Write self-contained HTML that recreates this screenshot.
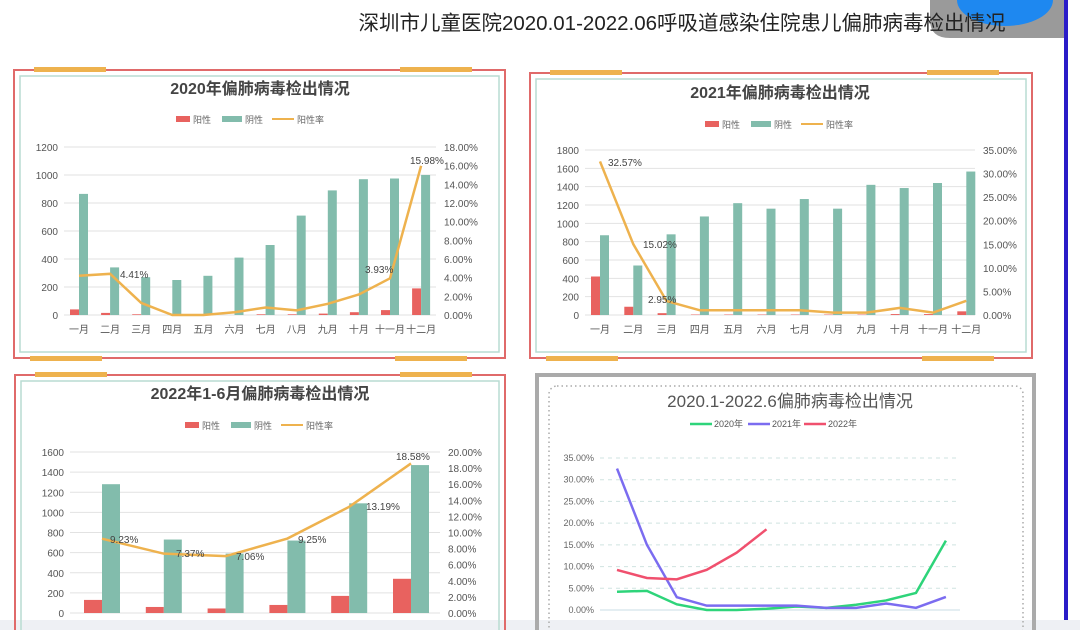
<!DOCTYPE html>
<html><head><meta charset="utf-8"><style>
body{margin:0;width:1080px;height:630px;overflow:hidden;background:#fff;font-family:"Liberation Sans","Noto Sans CJK SC",sans-serif}
svg{display:block}
</style></head><body>
<svg id="s" width="1080" height="630" xmlns="http://www.w3.org/2000/svg" font-family="Liberation Sans, Noto Sans CJK SC, sans-serif">
<rect width="1080" height="630" fill="#fff"/>
<path d="M930 0 H1065 V38 H950 Q930 38 930 20 Z" fill="#9a9a9a"/>
<ellipse cx="1005" cy="0" rx="48" ry="26" fill="#1e88f0"/>
<text x="682" y="30" font-size="20.5" text-anchor="middle" fill="#222">深圳市儿童医院2020.01-2022.06呼吸道感染住院患儿偏肺病毒检出情况</text>
<rect x="1064" y="0" width="4" height="630" fill="#2a1cc8"/>
<rect x="0" y="620" width="1080" height="10" fill="#eef0f4"/>
<g id="g"></g>
</svg>
<script>
const g=document.getElementById('g');let h='';
const RED='#e8625f',TEAL='#82bcac',OR='#eeb24e';
function t(x,y,s,sz,fill,anc,w){h+=`<text x="${x}" y="${y}" font-size="${sz}" fill="${fill||'#444'}" text-anchor="${anc||'start'}" ${w?'font-weight="bold"':''}>${s}</text>`}
function frame(x1,y1,x2,y2){
 h+=`<rect x="${x1}" y="${y1}" width="${x2-x1}" height="${y2-y1}" fill="none" stroke="#e06a6a" stroke-width="2"/>`;
 h+=`<rect x="${x1+6}" y="${y1+6}" width="${x2-x1-12}" height="${y2-y1-12}" fill="none" stroke="#b8dcd2" stroke-width="1.5"/>`;
 h+=`<rect x="${x1+20}" y="${y1-3}" width="72" height="5" fill="${OR}"/><rect x="${x2-105}" y="${y1-3}" width="72" height="5" fill="${OR}"/>`;
 h+=`<rect x="${x1+16}" y="${y2-2}" width="72" height="5" fill="${OR}"/><rect x="${x2-110}" y="${y2-2}" width="72" height="5" fill="${OR}"/>`;
}
function legend(x,y){
 h+=`<rect x="${x}" y="${y-5}" width="14" height="6" fill="${RED}"/>`;t(x+17,y+2,'阳性',9,'#666');
 h+=`<rect x="${x+46}" y="${y-5}" width="20" height="6" fill="${TEAL}"/>`;t(x+69,y+2,'阴性',9,'#666');
 h+=`<line x1="${x+96}" y1="${y-2}" x2="${x+118}" y2="${y-2}" stroke="${OR}" stroke-width="2"/>`;t(x+121,y+2,'阳性率',9,'#666');
}
function combo(o){
 const {x0,x1,y0,y1,lmax,lstep,rmax,rstep,cats,c0,step,neg,pos,rate,bw,labels}=o;
 const ly=v=>y0-(y0-y1)*v/lmax, ry=v=>y0-(y0-y1)*v/rmax;
 for(let v=0;v<=lmax+1e-6;v+=lstep){const y=ly(v);h+=`<line x1="${x0}" y1="${y}" x2="${x1}" y2="${y}" stroke="#e2e2e2"/>`;t(x0-6,y+4,v,10,'#555','end');}
 for(let v=0;v<=rmax+1e-6;v+=rstep){t(x1+8,ry(v)+4,v.toFixed(2)+'%',10,'#555');}
 let pts=[];
 cats.forEach((c,i)=>{const cx=c0+i*step;
  h+=`<rect x="${cx-bw}" y="${ly(pos[i])}" width="${bw}" height="${y0-ly(pos[i])}" fill="${RED}"/>`;
  h+=`<rect x="${cx}" y="${ly(neg[i])}" width="${bw}" height="${y0-ly(neg[i])}" fill="${TEAL}"/>`;
  t(cx,y0+18,c,10,'#555','middle');pts.push(cx+','+ry(rate[i]));});
 h+=`<polyline points="${pts.join(' ')}" fill="none" stroke="${OR}" stroke-width="2.5"/>`;
 labels.forEach(l=>t(l[0],l[1],l[2],10,'#444'));
}
const M12=['一月','二月','三月','四月','五月','六月','七月','八月','九月','十月','十一月','十二月'];
frame(14,70,505,358);
t(260,94,'2020年偏肺病毒检出情况',16,'#444','middle',1);legend(176,121);
combo({x0:64,x1:436,y0:315,y1:147,lmax:1200,lstep:200,rmax:18,rstep:2,cats:M12,c0:79,step:31.1,bw:9,
 neg:[865,340,270,250,280,410,500,710,890,970,975,1000],pos:[40,15,5,0,0,0,5,5,10,20,35,190],
 rate:[4.2,4.41,1.3,0,0,0.3,0.8,0.5,1.2,2.2,3.93,15.98],labels:[[120,278,'4.41%'],[365,273,'3.93%'],[410,164,'15.98%']]});
frame(530,73,1032,358);
t(780,98,'2021年偏肺病毒检出情况',16,'#444','middle',1);legend(705,126);
combo({x0:585,x1:975,y0:315,y1:150,lmax:1800,lstep:200,rmax:35,rstep:5,cats:M12,c0:600,step:33.3,bw:9,
 neg:[870,540,880,1075,1220,1160,1265,1160,1420,1385,1440,1565],pos:[420,90,20,5,5,5,5,5,5,10,10,40],
 rate:[32.57,15.02,2.95,1,1,1,1,0.5,0.5,1.5,0.5,3.0],labels:[[608,166,'32.57%'],[643,248,'15.02%'],[648,303,'2.95%']]});
frame(15,375,505,640);
t(260,399,'2022年1-6月偏肺病毒检出情况',16,'#444','middle',1);legend(185,427);
combo({x0:70,x1:440,y0:613,y1:452,lmax:1600,lstep:200,rmax:20,rstep:2,cats:['','','','','',''],c0:102,step:61.8,bw:18,
 neg:[1280,730,590,720,1090,1470],pos:[130,60,45,80,170,340],rate:[9.23,7.37,7.06,9.25,13.19,18.58],
 labels:[[110,543,'9.23%'],[176,557,'7.37%'],[236,560,'7.06%'],[298,543,'9.25%'],[366,510,'13.19%'],[396,460,'18.58%']]});
h+=`<rect x="537" y="375" width="497" height="262" fill="none" stroke="#aaa" stroke-width="4"/>`;
h+=`<rect x="549" y="386" width="474" height="250" rx="8" fill="none" stroke="#aaa" stroke-width="1.5" stroke-dasharray="1.5 3"/>`;
t(790,407,'2020.1-2022.6偏肺病毒检出情况',17,'#555','middle');
[['#2ed47a','2020年',690],['#7b6cf0','2021年',748],['#f0506e','2022年',804]].forEach(a=>{h+=`<line x1="${a[2]}" y1="424" x2="${a[2]+22}" y2="424" stroke="${a[0]}" stroke-width="2.5"/>`;t(a[2]+24,427,a[1],9,'#555');});
const py=v=>610-152*v/35;
for(let v=0;v<=35;v+=5){const y=py(v);h+=`<line x1="600" y1="${y}" x2="960" y2="${y}" stroke="${v?'#cfe3e0':'#c8dde6'}" ${v?'stroke-dasharray="4 4"':''}/>`;t(594,y+3,v.toFixed(2)+'%',9,'#666','end');}
function ln(d,c){h+=`<polyline points="${d.map((v,i)=>(617+i*29.9)+','+py(v)).join(' ')}" fill="none" stroke="${c}" stroke-width="2.5"/>`}
ln([4.2,4.41,1.3,0,0,0.3,0.8,0.5,1.2,2.2,3.93,15.98],'#2ed47a');
ln([32.57,15.02,2.95,1,1,1,1,0.5,0.5,1.5,0.5,3.0],'#7b6cf0');
ln([9.23,7.37,7.06,9.25,13.19,18.58],'#f0506e');
g.innerHTML=h;
</script>
</body></html>
